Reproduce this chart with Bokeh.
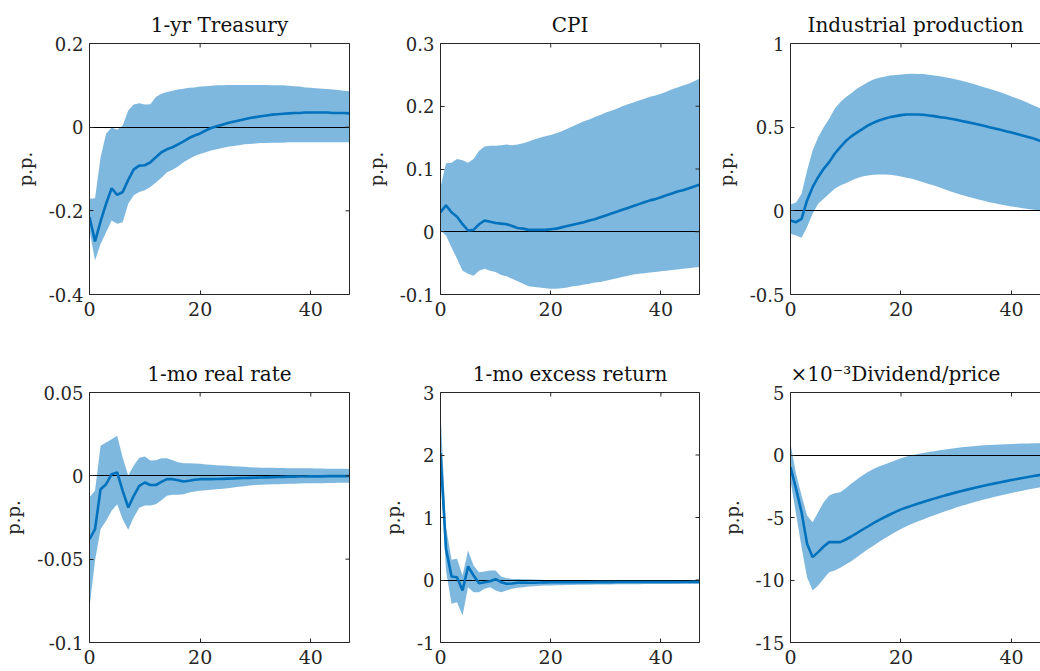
import math
from bokeh.plotting import figure
from bokeh.models import Range1d, LinearAxis, FixedTicker, CustomJSTickFormatter
from bokeh.layouts import row, column
from bokeh.embed import file_html
from bokeh.resources import INLINE

months = list(range(48))

# ---- 1-yr Treasury ----
t1_mean = [-0.215, -0.273, -0.225, -0.183, -0.146, -0.162, -0.155, -0.126, -0.101, -0.092,
           -0.091, -0.084, -0.072, -0.060, -0.053, -0.048, -0.041, -0.034, -0.026, -0.020,
           -0.015, -0.008, -0.002, 0.002, 0.006, 0.010, 0.013, 0.016, 0.019, 0.022,
           0.024, 0.026, 0.028, 0.030, 0.031, 0.032, 0.033, 0.034, 0.034, 0.035,
           0.035, 0.035, 0.035, 0.035, 0.034, 0.034, 0.034, 0.033]
t1_upper = [-0.171, -0.170, -0.072, -0.016, -0.001, -0.006, 0.004, 0.040, 0.054, 0.057,
            0.054, 0.055, 0.072, 0.080, 0.084, 0.087, 0.090, 0.092, 0.094, 0.095,
            0.097, 0.098, 0.099, 0.100, 0.100, 0.101, 0.101, 0.101, 0.101, 0.101,
            0.101, 0.101, 0.101, 0.100, 0.100, 0.100, 0.099, 0.098, 0.097, 0.095,
            0.094, 0.093, 0.092, 0.091, 0.090, 0.089, 0.087, 0.086]
t1_lower = [-0.247, -0.319, -0.279, -0.251, -0.223, -0.231, -0.227, -0.183, -0.163, -0.155,
            -0.151, -0.143, -0.132, -0.121, -0.108, -0.102, -0.094, -0.084, -0.076, -0.069,
            -0.064, -0.060, -0.056, -0.053, -0.050, -0.047, -0.045, -0.043, -0.041, -0.040,
            -0.039, -0.038, -0.038, -0.037, -0.037, -0.037, -0.036, -0.036, -0.036, -0.036,
            -0.036, -0.036, -0.036, -0.036, -0.036, -0.036, -0.036, -0.036]

# ---- CPI ----
cpi_mean = [0.031, 0.042, 0.031, 0.024, 0.012, 0.002, 0.003, 0.012, 0.018, 0.016,
            0.014, 0.013, 0.012, 0.009, 0.006, 0.005, 0.003, 0.003, 0.003, 0.003,
            0.004, 0.005, 0.007, 0.009, 0.011, 0.013, 0.015, 0.018, 0.020, 0.023,
            0.026, 0.029, 0.032, 0.035, 0.038, 0.041, 0.044, 0.047, 0.050, 0.052,
            0.055, 0.058, 0.061, 0.064, 0.066, 0.069, 0.072, 0.075]
cpi_upper = [0.071, 0.109, 0.110, 0.116, 0.114, 0.110, 0.116, 0.129, 0.136, 0.137,
             0.137, 0.138, 0.139, 0.138, 0.139, 0.141, 0.144, 0.147, 0.150, 0.152,
             0.154, 0.157, 0.160, 0.164, 0.168, 0.172, 0.176, 0.179, 0.183, 0.186,
             0.190, 0.193, 0.196, 0.200, 0.203, 0.206, 0.209, 0.212, 0.215, 0.217,
             0.220, 0.223, 0.227, 0.230, 0.233, 0.236, 0.240, 0.244]
cpi_lower = [0.002, -0.006, -0.025, -0.043, -0.062, -0.067, -0.070, -0.062, -0.059, -0.062,
             -0.064, -0.069, -0.071, -0.075, -0.079, -0.083, -0.087, -0.088, -0.089, -0.090,
             -0.091, -0.091, -0.090, -0.089, -0.087, -0.086, -0.084, -0.083, -0.081, -0.080,
             -0.078, -0.076, -0.074, -0.072, -0.070, -0.068, -0.067, -0.066, -0.065, -0.064,
             -0.063, -0.062, -0.061, -0.060, -0.059, -0.058, -0.057, -0.056]

# ---- Industrial production ----
ip_mean = [-0.058, -0.068, -0.048, 0.062, 0.141, 0.201, 0.251, 0.291, 0.341, 0.381,
           0.417, 0.445, 0.467, 0.488, 0.510, 0.526, 0.540, 0.550, 0.560, 0.566,
           0.572, 0.576, 0.576, 0.576, 0.574, 0.570, 0.566, 0.560, 0.556, 0.550,
           0.544, 0.537, 0.530, 0.523, 0.516, 0.508, 0.500, 0.492, 0.484, 0.476,
           0.468, 0.459, 0.450, 0.441, 0.432, 0.420, 0.412, 0.404]
ip_upper = [0.038, 0.050, 0.102, 0.241, 0.360, 0.440, 0.500, 0.550, 0.610, 0.649,
            0.679, 0.703, 0.729, 0.749, 0.769, 0.785, 0.795, 0.802, 0.809, 0.812,
            0.815, 0.817, 0.819, 0.818, 0.817, 0.813, 0.809, 0.804, 0.799, 0.792,
            0.785, 0.777, 0.769, 0.759, 0.749, 0.739, 0.729, 0.719, 0.709, 0.696,
            0.683, 0.671, 0.659, 0.644, 0.629, 0.616, 0.601, 0.585]
ip_lower = [-0.137, -0.147, -0.161, -0.097, -0.017, 0.042, 0.072, 0.102, 0.132, 0.151,
            0.165, 0.181, 0.195, 0.205, 0.211, 0.215, 0.217, 0.217, 0.215, 0.211,
            0.205, 0.198, 0.191, 0.181, 0.171, 0.161, 0.151, 0.139, 0.127, 0.116,
            0.105, 0.095, 0.086, 0.077, 0.068, 0.060, 0.052, 0.045, 0.038, 0.032,
            0.026, 0.021, 0.016, 0.011, 0.006, 0.002, -0.001, -0.004]

# ---- 1-mo real rate ----
rr_mean = [-0.038, -0.032, -0.008, -0.005, 0.001, 0.002, -0.009, -0.019, -0.012, -0.006,
           -0.004, -0.0055, -0.0055, -0.0036, -0.002, -0.002, -0.0026, -0.0034, -0.003, -0.0024,
           -0.002, -0.002, -0.002, -0.0019, -0.0018, -0.0017, -0.0016, -0.0014, -0.0013, -0.0012,
           -0.0011, -0.0010, -0.0009, -0.0008, -0.0007, -0.0006, -0.0005, -0.0005, -0.0004, -0.0004,
           -0.0003, -0.0003, -0.0003, -0.0002, -0.0002, -0.0002, -0.0002, -0.0001]
rr_upper = [-0.0128, -0.0088, 0.018, 0.020, 0.022, 0.024, 0.011, 0.0002, 0.0062, 0.0108,
            0.0116, 0.0092, 0.0094, 0.0106, 0.0106, 0.0094, 0.0082, 0.0076, 0.0076, 0.0074,
            0.0072, 0.0068, 0.0066, 0.0064, 0.0062, 0.0060, 0.0058, 0.0056, 0.0054, 0.0052,
            0.0050, 0.0049, 0.0048, 0.0048, 0.0047, 0.0047, 0.0046, 0.0046, 0.0045, 0.0045,
            0.0045, 0.0044, 0.0044, 0.0043, 0.0043, 0.0042, 0.0042, 0.0041]
rr_lower = [-0.079, -0.0508, -0.032, -0.027, -0.021, -0.017, -0.026, -0.0324, -0.0248, -0.0192,
            -0.0178, -0.0178, -0.017, -0.0146, -0.012, -0.0114, -0.0114, -0.011, -0.010, -0.0094,
            -0.009, -0.0086, -0.0084, -0.0081, -0.0078, -0.0074, -0.0070, -0.0066, -0.0062, -0.0058,
            -0.0055, -0.0053, -0.0052, -0.0051, -0.0050, -0.0049, -0.0048, -0.0047, -0.0046, -0.0045,
            -0.0045, -0.0044, -0.0044, -0.0043, -0.0043, -0.0042, -0.0042, -0.0041]

# ---- 1-mo excess return ----
er_mean = [2.03, 0.50, 0.055, 0.045, -0.168, 0.216, 0.072, -0.051, -0.035, -0.019,
           0.013, -0.035, -0.061, -0.056, -0.045, -0.040, -0.045, -0.045, -0.040, -0.038,
           -0.037, -0.036, -0.036, -0.036, -0.035, -0.035, -0.035, -0.035, -0.034, -0.034,
           -0.034, -0.034, -0.033, -0.033, -0.033, -0.033, -0.033, -0.032, -0.032, -0.032,
           -0.032, -0.032, -0.031, -0.031, -0.031, -0.031, -0.030, -0.030]
er_upper = [2.70, 0.85, 0.323, 0.339, 0.072, 0.472, 0.232, 0.125, 0.136, 0.152,
            0.152, 0.056, 0.029, 0.018, 0.018, 0.013, 0.013, 0.008, 0.004, 0.001,
            -0.002, -0.001, -0.002, -0.002, -0.003, -0.003, -0.004, -0.004, -0.004, -0.005,
            -0.005, -0.005, -0.005, -0.005, -0.006, -0.006, -0.006, -0.006, -0.006, -0.006,
            -0.006, -0.007, -0.007, -0.007, -0.007, -0.007, -0.007, -0.007]
er_lower = [1.75, 0.15, -0.381, -0.355, -0.568, -0.115, -0.195, -0.195, -0.141, -0.115,
            -0.168, -0.195, -0.168, -0.141, -0.125, -0.115, -0.104, -0.099, -0.093, -0.088,
            -0.088, -0.085, -0.083, -0.081, -0.079, -0.077, -0.076, -0.074, -0.073, -0.072,
            -0.071, -0.070, -0.069, -0.068, -0.067, -0.066, -0.066, -0.065, -0.064, -0.064,
            -0.063, -0.063, -0.062, -0.062, -0.061, -0.061, -0.060, -0.060]

# ---- Dividend/price (values in units of 1e-3, as on the axis) ----
dp_scale = 1e-3
dp_mean = [-0.97, -2.70, -4.57, -7.10, -8.17, -7.77, -7.32, -6.97, -6.97, -6.97,
           -6.76, -6.52, -6.25, -5.98, -5.72, -5.45, -5.21, -4.98, -4.76, -4.55,
           -4.35, -4.20, -4.05, -3.90, -3.76, -3.62, -3.49, -3.36, -3.23, -3.11,
           -2.99, -2.88, -2.77, -2.66, -2.56, -2.46, -2.36, -2.27, -2.18, -2.09,
           -2.00, -1.92, -1.84, -1.76, -1.68, -1.61, -1.54, -1.47]
dp_upper = [0.90, -1.50, -3.24, -4.84, -5.37, -4.57, -3.77, -3.24, -3.05, -2.97,
            -2.65, -2.30, -1.96, -1.64, -1.35, -1.11, -0.92, -0.76, -0.60, -0.42,
            -0.25, -0.12, -0.01, 0.08, 0.16, 0.24, 0.31, 0.38, 0.45, 0.51,
            0.57, 0.62, 0.67, 0.71, 0.75, 0.78, 0.81, 0.83, 0.85, 0.87,
            0.89, 0.91, 0.92, 0.93, 0.94, 0.95, 0.96, 0.96]
dp_lower = [-2.04, -4.71, -7.37, -9.77, -10.84, -10.44, -9.90, -9.37, -9.24, -9.02,
            -8.76, -8.49, -8.17, -7.85, -7.53, -7.26, -6.95, -6.68, -6.42, -6.16,
            -5.92, -5.70, -5.50, -5.32, -5.15, -4.98, -4.82, -4.66, -4.50, -4.35,
            -4.20, -4.06, -3.93, -3.80, -3.68, -3.56, -3.45, -3.34, -3.23, -3.13,
            -3.03, -2.94, -2.85, -2.76, -2.68, -2.60, -2.52, -2.45]

titles = ["1-yr Treasury", "CPI", "Industrial production",
          "1-mo real rate", "1-mo excess return", "Dividend/price"]
exponent_label = "\u00d710\u207b\u00b3"
x_ticks = [0, 20, 40]
y_ticks = [
    [-0.4, -0.2, 0, 0.2],
    [-0.1, 0, 0.1, 0.2, 0.3],
    [-0.5, 0, 0.5, 1],
    [-0.1, -0.05, 0, 0.05],
    [-1, 0, 1, 2, 3],
    [-0.015, -0.01, -0.005, 0, 0.005],
]
y_label = "p.p."

FONT = "DejaVu Serif"
AX = "#262626"
BLUE = "#0072BD"


def style_axis(ax, font_size, standoff):
    ax.axis_line_color = AX
    ax.axis_line_width = 1
    ax.major_tick_line_color = AX
    ax.major_tick_line_width = 1
    ax.major_tick_in = 4
    ax.major_tick_out = 0
    ax.minor_tick_line_color = None
    ax.major_label_text_font = FONT
    ax.major_label_text_color = AX
    ax.major_label_text_font_size = font_size
    ax.major_label_standoff = standoff


def bare_axis():
    ax = LinearAxis(ticker=FixedTicker(ticks=[]))
    ax.axis_line_color = AX
    ax.axis_line_width = 1
    ax.major_tick_line_color = None
    ax.minor_tick_line_color = None
    return ax


def panel(idx, lower, mean, upper, scale, top_row, col):
    yt = y_ticks[idx]
    yr = (yt[0], yt[-1])
    lo = [v * scale for v in lower]
    mi = [v * scale for v in mean]
    up = [v * scale for v in upper]
    xmax = months[-1]
    cropped = col == 2
    if top_row:
        h, bt, bb = 340, 43, 46
    else:
        h, bt, bb = 331, 52, 29
    if col == 0:
        w, bl, br, xend = 358, 89, 9, xmax
    elif col == 1:
        w, bl, br, xend = 350, 82, 9, xmax
    else:
        w, bl, br, xend = 332, 82, 0, 45.25
    p = figure(width=w, height=h, x_range=Range1d(0, xend), y_range=Range1d(*yr),
               output_backend="svg", toolbar_location=None,
               min_border_left=bl, min_border_right=br, min_border_top=bt, min_border_bottom=bb,
               outline_line_color=None, background_fill_color="white", border_fill_color="white")
    p.xgrid.visible = False
    p.ygrid.visible = False

    inv = 1.0 / scale
    p.xaxis.ticker = FixedTicker(ticks=x_ticks)
    p.yaxis.ticker = FixedTicker(ticks=yt)
    p.yaxis.formatter = CustomJSTickFormatter(
        args=dict(s=inv), code="return String(Math.round(tick*s*1e6)/1e6);")
    style_axis(p.xaxis[0], "19px", 7)
    style_axis(p.yaxis[0], "18px", 6)
    p.yaxis.axis_label = y_label
    p.yaxis.axis_label_text_font = FONT
    p.yaxis.axis_label_text_font_size = "18px"
    p.yaxis.axis_label_text_font_style = "normal"
    p.yaxis.axis_label_text_color = AX
    p.yaxis.axis_label_standoff = 10

    p.add_layout(bare_axis(), "above")
    if not cropped:
        p.add_layout(bare_axis(), "right")

    # confidence band, zero line, point estimate
    p.varea(x=months, y1=lo, y2=up, fill_color=BLUE, fill_alpha=0.5)
    p.hspan(y=[0], line_color="black", line_width=1)
    p.line(months, mi, line_color=BLUE, line_width=2.6)

    # inward tick marks on the top and right frame edges (half of each dash is clipped)
    p.scatter(x=x_ticks, y=[yr[1]] * len(x_ticks), marker="dash", angle=math.pi / 2,
              size=8, line_color=AX, line_width=1)
    if not cropped:
        p.scatter(x=[xend] * len(yt), y=yt, marker="dash", size=8, line_color=AX, line_width=1)

    t = p.title
    if scale != 1:
        t.text = exponent_label + titles[idx]
        t.align = "left"
    else:
        t.text = titles[idx]
        t.align = "center"
    t.text_font = FONT
    t.text_font_size = "20px"
    t.text_font_style = "normal"
    t.text_color = "#111111"
    t.standoff = 14
    return p


f1 = panel(0, t1_lower, t1_mean, t1_upper, 1, True, 0)
f2 = panel(1, cpi_lower, cpi_mean, cpi_upper, 1, True, 1)
f3 = panel(2, ip_lower, ip_mean, ip_upper, 1, True, 2)
f4 = panel(3, rr_lower, rr_mean, rr_upper, 1, False, 0)
f5 = panel(4, er_lower, er_mean, er_upper, 1, False, 1)
f6 = panel(5, dp_lower, dp_mean, dp_upper, dp_scale, False, 2)

layout = column(row(f1, f2, f3), row(f4, f5, f6))
open("out.html", "w").write(file_html(layout, INLINE))
